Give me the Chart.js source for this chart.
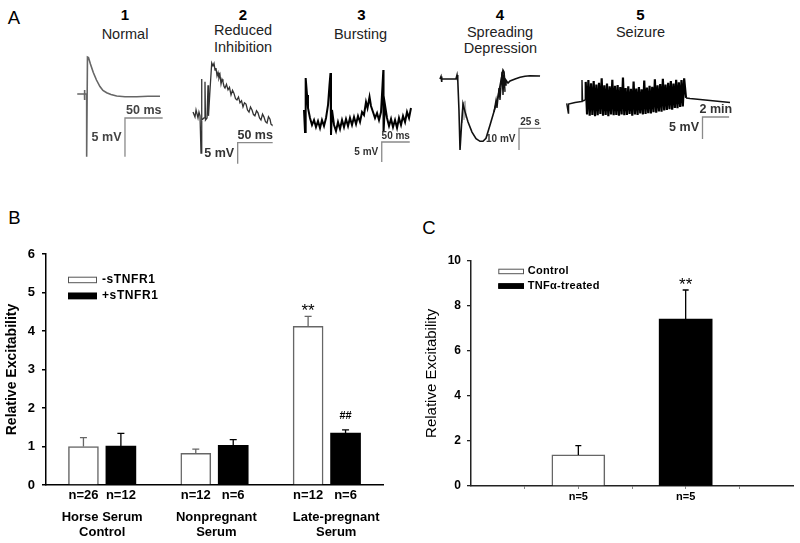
<!DOCTYPE html>
<html><head><meta charset="utf-8">
<script src="https://cdn.jsdelivr.net/npm/chart.js@4.4.0/dist/chart.umd.min.js"></script>
<style>
body{margin:0;background:#fff;}
#page{position:relative;width:800px;height:543px;overflow:hidden;font-family:"Liberation Sans",Arial,sans-serif;color:#000;}
canvas{position:absolute;}
.t{position:absolute;transform:translate(-50%,-50%);line-height:1;white-space:nowrap;}
.num{font-weight:bold;font-size:15px;}
.name{font-size:14.5px;color:#222;}
.panel{font-size:18.5px;}
</style></head>
<body><div id="page">
<div class="t panel" style="left:14px;top:18px">A</div>
<div class="t panel" style="left:14.5px;top:218px">B</div>
<div class="t panel" style="left:429px;top:227.5px">C</div>

<div class="t num" style="left:125px;top:13.5px">1</div>
<div class="t name" style="left:125px;top:33.8px">Normal</div>
<div class="t num" style="left:243px;top:13.5px">2</div>
<div class="t name" style="left:243px;top:30.3px">Reduced</div>
<div class="t name" style="left:243px;top:47px">Inhibition</div>
<div class="t num" style="left:361.5px;top:13.5px">3</div>
<div class="t name" style="left:360.5px;top:33.8px">Bursting</div>
<div class="t num" style="left:500px;top:13.5px">4</div>
<div class="t name" style="left:500px;top:31.7px">Spreading</div>
<div class="t name" style="left:500.5px;top:48px">Depression</div>
<div class="t num" style="left:640.5px;top:13.5px">5</div>
<div class="t name" style="left:640.5px;top:31.5px">Seizure</div>

<canvas id="tr1" width="100" height="115" style="left:70px;top:50px"></canvas>
<canvas id="tr2" width="100" height="115" style="left:185px;top:55px"></canvas>
<canvas id="tr3" width="125" height="110" style="left:295px;top:60px"></canvas>
<canvas id="tr4" width="120" height="100" style="left:430px;top:60px"></canvas>
<canvas id="tr5" width="185" height="75" style="left:555px;top:70px"></canvas>
<canvas id="chartB" width="400" height="313" style="left:0px;top:230px"></canvas>
<canvas id="chartC" width="400" height="313" style="left:400px;top:230px"></canvas>
</div>
<script>
// ---- panel A traces: [time, voltage] ----
// 1 Normal (ms, mV)
const normalTrace = [[-12.9,0.32],[-3.3,0.32],[-3.3,0.84],[-3.3,-0.45],[-2.65,0.32],[-0.4,0.32],[-0.4,-7.78],
  [0.66,5.1],[2,5.04],[4.6,4.2],[8.4,3.1],[12.6,2.13],[17.2,1.29],[21.2,0.78],[26.1,0.49],[31.8,0.26],
  [39.4,0.06],[50.4,-0.03],[65.9,-0.03],[80.9,0.03],[96.8,0.03]];
// 2 Reduced inhibition (ms, mV)
const reducedTrace = [[-11.4,0.7],[-8.6,-0.5],[-7.1,1.2],[-4.3,-0.7],[-2.9,0.7],[-1.4,-0.2],[0,-9.05],[0.7,8.6],
  [1.4,-1.2],[4.3,-0.7],[5.7,7.9],[6.4,-1.2],[8.6,-0.7],[10,7.1],[10.7,-0.2],[12.9,6],[15.3,12.4],[17.1,11.7],
  [18.6,12.3],[20,10.7],[21.4,11.2],[22.9,9.3],[24.3,10.1],[25.7,8.8],[27.1,9.6],[28.6,7.4],[30,8.5],[31.4,7.9],
  [32.9,6.8],[34.3,6.4],[36.4,7.3],[38.6,6],[40.7,6.6],[42.9,4.8],[45,5.9],[47,5.2],[49.3,3.9],[51.4,3.6],
  [53.6,4.3],[55.7,2.9],[57.9,3.4],[60,1.9],[62.1,2.9],[64.3,2.6],[66.4,1.2],[68.6,0.7],[70.7,1.9],[72.9,1.2],
  [75,0.1],[77,-0.2],[79.3,1],[81.4,0.5],[83.6,-0.7],[85.7,-1.2],[87.9,0.2],[90,-0.5],[92.1,-1.6],[94.3,-1.9],
  [96.4,-0.4],[98.6,-1],[100,-2.2],[101.4,-2.4]];
// 3 Bursting (ms, mV)
const burstingTrace = [[0,3.25],[1.8,-2.25],[3,11.25],[5.4,7],[7.1,3.75],[10.7,1.25],[14.3,-0.5],[17.9,0.75],
  [21.4,-1],[25,0.5],[28.6,-1.25],[32.1,0.75],[35.7,-0.75],[39.3,1.25],[42.9,4.5],[45.5,9.5],[47.3,12.5],
  [48.2,-3],[50,3.25],[53.6,-0.5],[57.1,-2],[60.7,0.25],[64.3,-1.5],[67.9,0.75],[71.4,-1],[75,1],[78.6,-0.75],
  [82.1,1.25],[85.7,-0.5],[89.3,1.5],[92.9,-0.25],[96.4,1.75],[100,0.25],[103.6,2.75],[107.1,2],[110.7,5.25],
  [113.4,3.75],[117,6.5],[119.6,4.25],[123.2,2.75],[126.8,1.25],[130.4,2.5],[133.9,0.75],[137.5,2.75],
  [140.2,9.5],[141.6,13.25],[142,-2.25],[144.6,4.5],[148.2,1.25],[151.8,-0.75],[155.4,1],[158.9,-1],
  [162.5,0.75],[166.1,-1.25],[169.6,1.25],[173.2,-0.5],[176.8,1.75],[180.4,0.25],[183.9,2.75],[187.5,1.25],[191,3.75]];
// 4 Spreading depression (s, mV)
const spreadingTrace = [[-20.5,0],[-19.3,1.16],[-18.75,-1.4],[-18.2,0],[-2.3,0],[-1.1,1.86],[-0.6,-0.93],[0,0],
  [1.1,-14.4],[2.3,-33],[4,-21.4],[5.7,-11.6],[8,-15.3],[11.4,-20],[15.9,-24.7],[20.5,-27.8],[25,-29],
  [28.4,-29],[31.8,-27.6],[36.4,-21.4],[42,-13.6],[45.5,-8.2],[48.9,-0.5],[51.1,4.2],[52.3,3.3],[53.4,-2.8],
  [54.5,-0.5],[56.8,-1.9],[59.1,-0.9],[64.8,0],[70.5,0.8],[76.1,1.26],[81.8,1.53],[93.2,1.4]];
const spreadingNoise = [[40.9,-15.3],[43.2,-9.8],[44.3,-13.5],[46.6,-4.2],[47.7,-9.8],[50,3.3],[51.1,-7.4],[52.3,1.9],[53.4,-6]];
const spreadingGray = [[4.5,-20.5],[5.7,-10.7],[6.8,-19.1],[8,-10.2],[9.1,-18.1]];
// 5 Seizure (min, mV): before, burst sampled every 0.1 min, after
const seizureBefore = [[-1.43,-0.07],[-1.31,-2.27],[-1.29,-0.23],[-0.8,0.11],[-0.32,0.34],[-0.28,5.2],[-0.24,0.45],[-0.02,0.68]];
const seizureBurst = [4.8,-2.6,5.2,-2.9,4.5,-2.7,5.0,-3.0,4.2,-2.8,
  4.6,-2.5,5.6,-2.9,4.0,-2.7,4.4,-3.0,3.8,-2.6,
  5.3,-2.8,3.9,-2.7,4.1,-2.9,3.6,-2.6,5.8,-2.8,
  3.4,-2.7,3.8,-2.5,3.2,-2.9,4.9,-2.6,3.3,-2.7,
  3.6,-2.4,3.1,-2.6,5.1,-2.5,3.5,-2.3,3.9,-2.4,
  3.7,-2.1,5.4,-2.2,4.0,-1.9,4.3,-2.0,5.5,-1.7,
  4.2,-1.6,4.6,-1.4,5.0,-1.5,4.4,-1.1,5.3,-1.2,
  4.7,-0.9,5.2,-0.8,5.6];
const seizureAfter = [[7.54,1.14],[7.84,1.02],[8.6,0.8],[9.35,0.57],[10.1,0.34],[10.85,0.11]];

// scale bars: corner point, lengths
const normalBar = {t:50.4, v:-2.78, dt:50, dv:5, xUnit:'ms', yUnit:'mV'};
const reducedBar = {t:52.4, v:-6.6, dt:50, dv:5, xUnit:'ms', yUnit:'mV'};
const burstingBar = {t:138.8, v:-4.75, dt:50, dv:5, xUnit:'ms', yUnit:'mV'};
const spreadingBar = {t:69.3, v:-23, dt:25, dv:10, xUnit:'s', yUnit:'mV'};
const seizureBar = {t:8.78, v:-3.18, dt:2, dv:5, xUnit:'min', yUnit:'mV'};

// ---- panel B ----
const groupsB = [['Horse Serum','Control'],['Nonpregnant','Serum'],['Late-pregnant','Serum']];
const nMinusB = ['n=26','n=12','n=12'];
const nPlusB = ['n=12','n=6','n=6'];
const minusB = [1.0, 0.82, 4.12];
const minusErrB = [0.23, 0.11, 0.26];
const plusB = [1.01, 1.03, 1.35];
const plusErrB = [0.33, 0.15, 0.08];
const sigMinusB = ['', '', '**'];
const sigPlusB = ['', '', '##'];

// ---- panel C ----
const labelsC = ['Control', 'TNF\u03b1-treated'];
const valuesC = [1.38, 7.41];
const errC = [0.41, 1.29];
const nC = ['n=5', 'n=5'];
const sigC = ['', '**'];

const FONT = '"Liberation Sans", Arial, sans-serif';
Chart.defaults.font.family = FONT;
Chart.defaults.color = '#000';
const pts = a => a.map(p => ({x:p[0], y:p[1]}));

function drawTrace(id, xr, yr, lines, sb, look) {
  const sets = lines.map(l => ({data: pts(l.pts), borderColor: l.color, borderWidth: l.width}));
  sets.push({data: pts([[sb.t, sb.v - sb.dv], [sb.t, sb.v], [sb.t + sb.dt, sb.v]]), borderColor: '#8a8a8a', borderWidth: 1.3});
  const sbLabels = {
    id: 'sbLabels',
    afterDatasetsDraw(chart) {
      const c = chart.ctx, X = chart.scales.x, Y = chart.scales.y;
      const px = X.getPixelForValue(sb.t), pr = X.getPixelForValue(sb.t + sb.dt);
      const py = Y.getPixelForValue(sb.v), pb = Y.getPixelForValue(sb.v - sb.dv);
      c.save();
      c.font = 'bold ' + look.size + 'px ' + FONT;
      c.fillStyle = look.color;
      c.textBaseline = 'middle';
      c.textAlign = 'center';
      c.fillText(sb.dt + ' ' + sb.xUnit, (px + pr) / 2, py - look.size / 2 - 1);
      c.textAlign = 'right';
      c.fillText(sb.dv + ' ' + sb.yUnit, px - 3.5, (py + pb) / 2);
      c.restore();
    }
  };
  new Chart(document.getElementById(id), {
    type: 'scatter',
    data: {datasets: sets.map(s => Object.assign({showLine: true, pointRadius: 0, tension: 0}, s))},
    options: {
      responsive: false, animation: false, events: [],
      layout: {padding: 0},
      plugins: {legend: {display: false}, tooltip: {enabled: false}},
      scales: {x: {display: false, min: xr[0], max: xr[1]}, y: {display: false, min: yr[0], max: yr[1]}}
    },
    plugins: [sbLabels]
  });
}

drawTrace('tr1', [-22.5, 110.1], [-8.85, 6.01], [{pts: normalTrace, color: '#666', width: 1.6}], normalBar, {size: 12.5, color: '#444'});
drawTrace('tr2', [-22.86, 120], [-13.1, 14.29], [{pts: reducedTrace, color: '#333', width: 1.3}], reducedBar, {size: 12.5, color: '#333'});
drawTrace('tr3', [-16.07, 207.1], [-11.75, 15.75], [{pts: burstingTrace, color: '#000', width: 2}], burstingBar, {size: 10, color: '#333'});
drawTrace('tr4', [-31.8, 104.5], [-37.7, 8.84], [
  {pts: spreadingTrace, color: '#111', width: 1.6},
  {pts: spreadingNoise, color: '#111', width: 1.4},
  {pts: spreadingGray, color: '#aaa', width: 1.4}], spreadingBar, {size: 10, color: '#333'});
const burstPts = seizureBurst.map((v, i) => [i * 0.1, v]);
drawTrace('tr5', [-2.31, 11.6], [-9.55, 7.5], [
  {pts: seizureBefore, color: '#111', width: 1.4},
  {pts: [seizureBefore[seizureBefore.length - 1]].concat(burstPts, [seizureAfter[0]]), color: '#000', width: 2.2},
  {pts: seizureAfter, color: '#111', width: 1.4}],
  seizureBar, {size: 12.5, color: '#333'});

// ---- shared bar-chart helpers ----
function errorBarsPlugin(cap) {
  return {
    id: 'errorBars',
    afterDatasetsDraw(chart) {
      const ctx = chart.ctx, yS = chart.scales.y;
      chart.data.datasets.forEach((ds, di) => {
        chart.getDatasetMeta(di).data.forEach((bar, i) => {
          const top = yS.getPixelForValue(ds.data[i].y + ds.errors[i]);
          ctx.save();
          ctx.strokeStyle = ds.errColor;
          ctx.lineWidth = 1.3;
          ctx.beginPath();
          ctx.moveTo(bar.x, bar.y); ctx.lineTo(bar.x, top);
          ctx.moveTo(bar.x - cap, top); ctx.lineTo(bar.x + cap, top);
          ctx.stroke();
          ctx.restore();
        });
      });
    }
  };
}
const sigStyle = {'**': {font: '17px ' + FONT, gap: 0}, '##': {font: 'bold 11px ' + FONT, gap: 11}};
const sigPlugin = {
  id: 'sigMarks',
  afterDatasetsDraw(chart) {
    const ctx = chart.ctx, yS = chart.scales.y;
    chart.data.datasets.forEach((ds, di) => {
      chart.getDatasetMeta(di).data.forEach((bar, i) => {
        const txt = ds.sig[i];
        if (!txt) return;
        const st = sigStyle[txt];
        const top = yS.getPixelForValue(ds.data[i].y + ds.errors[i]);
        ctx.save();
        ctx.font = st.font; ctx.fillStyle = '#000';
        ctx.textAlign = 'center'; ctx.textBaseline = 'alphabetic';
        ctx.fillText(txt, bar.x, top - st.gap);
        ctx.restore();
      });
    });
  }
};
function legendPlugin(o) {
  return {
    id: 'boxLegend',
    afterDraw(chart) {
      const ctx = chart.ctx;
      chart.data.datasets.forEach((ds, i) => {
        const y = o.y + i * o.step;
        ctx.save();
        ctx.fillStyle = ds.backgroundColor;
        ctx.fillRect(o.x, y, o.w, o.h);
        ctx.strokeStyle = ds.backgroundColor === '#000' ? '#000' : '#555';
        ctx.lineWidth = 1;
        ctx.strokeRect(o.x + 0.5, y + 0.5, o.w - 1, o.h - 1);
        ctx.font = o.font;
        if (o.spacing) ctx.letterSpacing = o.spacing;
        ctx.fillStyle = '#000';
        ctx.textAlign = 'left'; ctx.textBaseline = 'middle';
        ctx.fillText(ds.label, o.textX, y + o.h / 2);
        ctx.restore();
      });
    }
  };
}

// ---- panel B chart ----
const posB = [];
const nLabelsB = [];
groupsB.forEach((g, i) => { posB.push(3 * i + 1, 3 * i + 2); nLabelsB.push(nMinusB[i], nPlusB[i]); });

new Chart(document.getElementById('chartB'), {
  type: 'bar',
  data: {datasets: [
    {label: '-sTNFR1', data: minusB.map((v, i) => ({x: 3 * i + 1, y: v})), backgroundColor: '#fff',
     borderColor: '#666', borderWidth: 1.5, errors: minusErrB, errColor: '#666', sig: sigMinusB},
    {label: '+sTNFR1', data: plusB.map((v, i) => ({x: 3 * i + 2, y: v})), backgroundColor: '#000',
     borderColor: '#000', borderWidth: 0, errors: plusErrB, errColor: '#000', sig: sigPlusB}
  ]},
  options: {
    responsive: false, animation: false, events: [],
    grouped: false, barThickness: 30,
    layout: {padding: {top: 24, right: 17, bottom: 3, left: 0}},
    plugins: {legend: {display: false}, tooltip: {enabled: false}},
    scales: {
      x: {type: 'linear', min: 0, max: 9, offset: false, weight: 0,
        afterBuildTicks: s => { s.ticks = posB.map(v => ({value: v})); },
        ticks: {callback: v => { const k = posB.indexOf(v); return k < 0 ? '' : nLabelsB[k]; },
          font: {size: 13, weight: 'bold'}, padding: 3, autoSkip: false, maxRotation: 0},
        grid: {display: false, drawTicks: false, offset: false},
        border: {color: '#000', width: 1.5},
        afterFit: s => { s.height = 17; }},
      x2: {type: 'linear', position: 'bottom', min: 0, max: 9, offset: false, weight: 1,
        afterBuildTicks: s => { s.ticks = [1.5, 4.55, 7.75].map(v => ({value: v})); },
        ticks: {callback: (v, i) => groupsB[i], font: {size: 13, weight: 'bold', lineHeight: 1.15},
          padding: 7.5, autoSkip: false, maxRotation: 0},
        grid: {display: false, drawTicks: false},
        border: {display: false},
        afterFit: s => { s.height = 38; }},
      y: {min: 0, max: 6,
        ticks: {stepSize: 1, font: {size: 13, weight: 'bold'}, padding: 7},
        grid: {drawOnChartArea: false, tickLength: 4, color: '#000', lineWidth: 1.5},
        border: {color: '#000', width: 1.5},
        title: {display: true, text: 'Relative Excitability', font: {size: 14, weight: 'bold'}, padding: {top: 3.6, bottom: 0}},
        afterFit: s => { s.width = 46; }}
    }
  },
  plugins: [errorBarsPlugin(3.5), sigPlugin,
    legendPlugin({x: 68, y: 46.7, w: 29, h: 6.5, step: 16, textX: 102, font: 'bold 12px ' + FONT, spacing: '0.6px'})]
});

// ---- panel C chart ----
const posC = [2, 4];
new Chart(document.getElementById('chartC'), {
  type: 'bar',
  data: {datasets: labelsC.map((lab, i) => ({
    label: lab, data: [{x: posC[i], y: valuesC[i]}],
    backgroundColor: i === 0 ? '#fff' : '#000', borderColor: i === 0 ? '#666' : '#000',
    borderWidth: i === 0 ? 1.5 : 0, errors: [errC[i]], errColor: '#000', sig: [sigC[i]]
  }))},
  options: {
    responsive: false, animation: false, events: [],
    grouped: false, barThickness: 53,
    layout: {padding: {top: 30.7, right: 7, bottom: 37, left: 0}},
    plugins: {legend: {display: false}, tooltip: {enabled: false}},
    scales: {
      x: {type: 'linear', min: 0, max: 6, offset: false,
        afterBuildTicks: s => { s.ticks = [1, 2, 3, 4, 5].map(v => ({value: v})); },
        ticks: {callback: v => { const k = posC.indexOf(v); return k < 0 ? '' : nC[k]; },
          font: {size: 11, weight: 'bold'}, padding: 1, autoSkip: false, maxRotation: 0},
        grid: {drawOnChartArea: false, tickLength: 3, color: '#888', lineWidth: 1, offset: false},
        border: {color: '#222', width: 1.5},
        afterFit: s => { s.height = 20; }},
      y: {min: 0, max: 10,
        ticks: {stepSize: 2, font: {size: 12, weight: 'bold'}, padding: 6},
        grid: {drawOnChartArea: false, tickLength: 4, color: '#222', lineWidth: 1.3},
        border: {color: '#222', width: 1.5},
        title: {display: true, text: 'Relative Excitability', font: {size: 15}, padding: {top: 22.7, bottom: 0}},
        afterFit: s => { s.width = 71; }}
    }
  },
  plugins: [errorBarsPlugin(3), sigPlugin,
    legendPlugin({x: 98.3, y: 38.7, w: 25.7, h: 5.5, step: 14.6, textX: 127.7, font: 'bold 11px ' + FONT, spacing: '0.3px'})]
});
</script>
</body></html>
